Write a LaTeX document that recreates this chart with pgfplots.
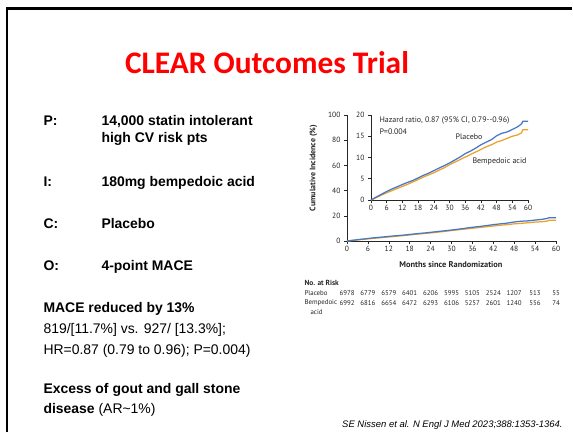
\documentclass[border=0pt]{standalone}
\usepackage{pgfplots}
\pgfplotsset{compat=1.18}
\usepackage{pgfplotstable}
\usepackage{fontspec}
\setmainfont{Liberation Sans}
\newfontfamily\titlefont{Carlito}
\newfontfamily\cf{PT Sans}
\definecolor{kmblue}{RGB}{70,120,200}
\definecolor{kmorange}{RGB}{238,160,40}
\definecolor{titlered}{RGB}{255,0,0}

\pgfplotstableread{
t y
0 0
2 0.7
4 1.35
6 2.0
8 2.6
10 3.1
12 3.65
14 4.15
16 4.6
18 5.2
20 5.8
22 6.3
24 6.9
26 7.5
28 8.1
30 8.7
32 9.4
34 10.1
36 10.9
38 11.5
40 12.2
42 13.0
44 13.6
46 14.2
48 15.1
50 15.7
52 16.0
54 16.6
56 17.2
57.5 17.9
58 18.5
60 18.5
}\placebo

\pgfplotstableread{
t y
0 0
2 0.55
4 1.15
6 1.7
8 2.2
10 2.7
12 3.2
14 3.7
16 4.25
18 4.8
20 5.4
22 5.9
24 6.4
26 7.0
28 7.6
30 8.3
32 8.9
34 9.5
36 10.1
38 10.7
40 11.3
42 11.9
44 12.5
46 13.0
48 13.6
50 14.0
52 14.5
54 15.0
56 15.3
57.5 15.8
58 16.5
60 16.5
}\bempedoic

\pgfplotsset{kmaxis/.style={
  scale only axis,
  axis x line*=bottom, axis y line*=left,
  axis line style={-, line width=0.6bp, black!85},
  tick style={line width=0.6bp, black!85},
  tick align=outside, major tick length=3bp,
  xmin=0, xmax=60, xtick={0,6,...,60},
  ticklabel style={font=\cf\fontsize{7.6}{8}\selectfont, text=black!85},
  xticklabel style={yshift=1bp},
  /pgf/number format/assume math mode=true,
  clip=false, enlargelimits=false,
  every axis plot/.append style={line width=1.25bp}
}}

\begin{document}
\begin{tikzpicture}[x=1bp,y=1bp]
\path[use as bounding box, fill=white] (0,0) rectangle (573,432);
\draw[line width=2.6bp] (7,0) -- (7,423.5) -- (572,423.5);

\node[anchor=base, text=titlered, font=\titlefont\bfseries\fontsize{31.5}{36}\selectfont] at (267,359) {CLEAR Outcomes Trial};

\begin{scope}[every node/.style={anchor=base west, font=\bfseries\fontsize{14}{16}\selectfont}]
\node at (40,307) {P:};
\node at (98,307) {14,000 statin intolerant};
\node at (98,290) {high CV risk pts};
\node at (40,246) {I:};
\node at (98,246) {180mg bempedoic acid};
\node at (40,204) {C:};
\node at (98,204) {Placebo};
\node at (40,162) {O:};
\node at (98,162) {4-point MACE};
\node at (40,119.5) {MACE reduced by 13\%};
\node at (40,39) {Excess of gout and gall stone};
\end{scope}
\begin{scope}[every node/.style={anchor=base west, font=\fontsize{14}{16}\selectfont}]
\node at (40,99) {819/[11.7\%] vs. 927/ [13.3\%];};
\node at (40,78) {HR=0.87 (0.79 to 0.96); P=0.004)};
\node at (40,19) {\textbf{disease} (AR\textasciitilde1\%)};
\end{scope}

% main axis
\begin{axis}[kmaxis, at={(347bp,191bp)}, anchor=south west,
  width=209bp, height=126bp, ymin=0, ymax=100, ytick={0,20,...,100}]
\addplot[kmorange, no marks] table[x=t,y=y] {\bempedoic};
\addplot[kmblue, no marks] table[x=t,y=y] {\placebo};
\end{axis}

% inset axis
\begin{axis}[kmaxis, at={(371bp,232bp)}, anchor=south west,
  width=157bp, height=85bp, ymin=0, ymax=20, ytick={0,5,...,20}]
\addplot[kmorange, no marks] table[x=t,y=y] {\bempedoic};
\addplot[kmblue, no marks] table[x=t,y=y] {\placebo};
\end{axis}

\begin{scope}[every node/.style={font=\cf\fontsize{8}{9}\selectfont, text=black!85}]
\node[anchor=west] at (376,311.3) {Hazard ratio, 0.87 (95\% CI, 0.79--0.96)};
\node[anchor=west] at (376,300.3) {P=0.004};
\node at (469,295) {Placebo};
\node at (499.5,271) {Bempedoic acid};
\end{scope}

\node[rotate=90, font=\cf\bfseries\fontsize{8}{9}\selectfont, text=black!85] at (313.5,264) {Cumulative Incidence (\%)};
\node[font=\cf\bfseries\fontsize{8.4}{9}\selectfont, text=black!85] at (451,167) {Months since Randomization};

\begin{scope}[every node/.style={font=\cf\fontsize{6.9}{7}\selectfont, text=black!85}]
\node[anchor=west, font=\cf\bfseries\fontsize{7.4}{8}\selectfont] at (301,149) {No. at Risk};
\node[anchor=west] at (301,139) {Placebo};
\node[anchor=west] at (301,129) {Bempedoic};
\node[anchor=west] at (307,120) {acid};
\foreach \t/\a/\b in {0/6978/6992, 6/6779/6816, 12/6579/6654, 18/6401/6472, 24/6206/6293, 30/5995/6106, 36/5105/5257, 42/2524/2601, 48/1207/1240, 54/513/556, 60/55/74} {
  \node at ({347+3.48333*\t},139) {\a};
  \node at ({347+3.48333*\t},129) {\b};
}
\end{scope}

\node[anchor=base east, font=\itshape\fontsize{9.5}{10}\selectfont] at (566,5) {SE Nissen et al. N Engl J Med 2023;388:1353-1364.};
\end{tikzpicture}
\end{document}
